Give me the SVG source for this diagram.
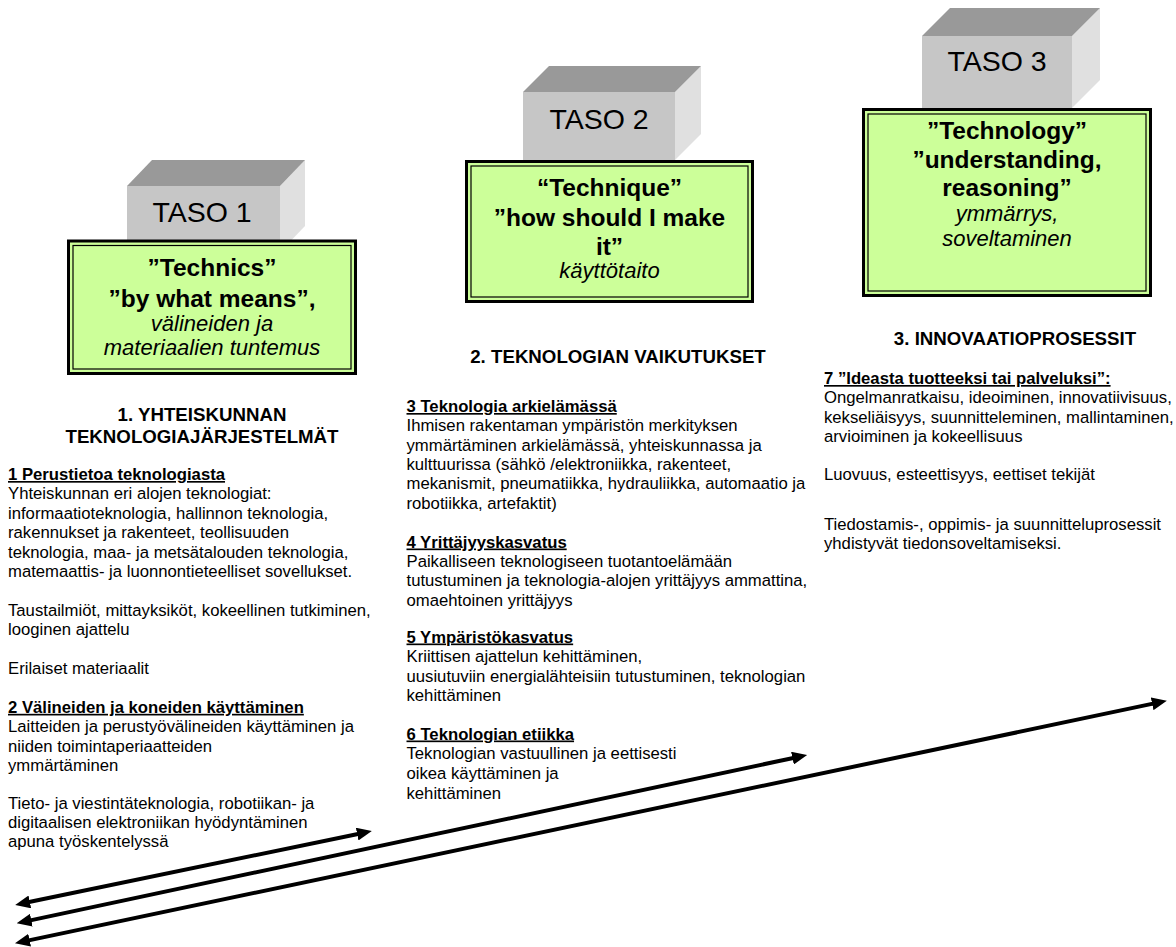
<svg xmlns="http://www.w3.org/2000/svg" width="1176" height="947" viewBox="0 0 1176 947">
<style>
.front{fill:#c6c6c6}
.top{fill:#999999}
.side{fill:#e0e0e0}
.taso{font-family:"Liberation Sans",Arial,sans-serif;font-size:28.5px;fill:#000;text-anchor:middle}
.gbox{fill:#ccff99;stroke:#000;stroke-width:3}
.gin{fill:none;stroke:#000;stroke-width:1.2}
.bt{font-family:"Liberation Sans",Arial,sans-serif;font-size:24.5px;font-weight:bold;text-anchor:middle}
.it{font-family:"Liberation Sans",Arial,sans-serif;font-size:22px;font-style:italic;text-anchor:middle}
.h{font-family:"Liberation Sans",Arial,sans-serif;font-size:18.7px;font-weight:bold;text-anchor:middle}
.b{font-family:"Liberation Sans",Arial,sans-serif;font-size:16.7px;fill:#000}
.u{font-weight:bold;text-decoration:underline}
.arr{stroke:#000;stroke-width:4;fill:none;marker-start:url(#ah);marker-end:url(#ah)}
</style>
<defs>
<marker id="ah" markerUnits="userSpaceOnUse" markerWidth="15" markerHeight="13" refX="7" refY="6.5" orient="auto-start-reverse" viewBox="0 0 15 13">
<path d="M0,0 L15,6.5 L0,13 z" fill="#000"/>
</marker>
</defs>
<rect width="1176" height="947" fill="#fff"/>

<g id="taso1">
<polygon class="side" points="280,186 305,160 305,226 280,252"/>
<polygon class="top" points="127,186 152,160 305,160 280,186"/>
<rect class="front" x="127" y="186" width="153" height="66"/>
<text class="taso" x="202" y="222">TASO 1</text>
</g>
<g id="box1">
<rect class="gbox" x="68.5" y="241" width="287" height="132.5"/>
<rect class="gin" x="73" y="245.5" width="278" height="123.5"/>
<text class="bt" x="212" y="276">”Technics”</text>
<text class="bt" x="212" y="306.5">”by what means”,</text>
<text class="it" x="212" y="331">välineiden ja</text>
<text class="it" x="212" y="355">materiaalien tuntemus</text>
</g>

<g id="taso2">
<polygon class="side" points="675,92 701,66 701,134 675,160"/>
<polygon class="top" points="523,92 549,66 701,66 675,92"/>
<rect class="front" x="523" y="92" width="152" height="68"/>
<text class="taso" x="599" y="128.5">TASO 2</text>
</g>
<g id="box2">
<rect class="gbox" x="466.5" y="161.5" width="286" height="140"/>
<rect class="gin" x="471" y="166" width="277" height="131"/>
<text class="bt" x="609.5" y="196">“Technique”</text>
<text class="bt" x="609.5" y="226">”how should I make</text>
<text class="bt" x="609.5" y="255">it”</text>
<text class="it" x="609.5" y="278">käyttötaito</text>
</g>

<g id="taso3">
<polygon class="side" points="1072,36 1100,8 1100,80 1072,108"/>
<polygon class="top" points="922,36 950,8 1100,8 1072,36"/>
<rect class="front" x="922" y="36" width="150" height="72"/>
<text class="taso" x="997" y="71">TASO 3</text>
</g>
<g id="box3">
<rect class="gbox" x="863.5" y="109.5" width="287" height="186"/>
<rect class="gin" x="868" y="114" width="278" height="177"/>
<text class="bt" x="1007" y="139">”Technology”</text>
<text class="bt" x="1007" y="168">”understanding,</text>
<text class="bt" x="1007" y="196">reasoning”</text>
<text class="it" x="1007" y="221">ymmärrys,</text>
<text class="it" x="1007" y="246">soveltaminen</text>
</g>

<g id="col1">
<text class="h" x="202" y="421">1. YHTEISKUNNAN</text>
<text class="h" x="202" y="443">TEKNOLOGIAJÄRJESTELMÄT</text>
<text class="b" x="8">
<tspan class="u" x="8" y="480">1 Perustietoa teknologiasta</tspan>
<tspan x="8" y="499.4">Yhteiskunnan eri alojen teknologiat:</tspan>
<tspan x="8" y="518.8">informaatioteknologia, hallinnon teknologia,</tspan>
<tspan x="8" y="538.2">rakennukset ja rakenteet, teollisuuden</tspan>
<tspan x="8" y="557.6">teknologia, maa- ja metsätalouden teknologia,</tspan>
<tspan x="8" y="577">matemaattis- ja luonnontieteelliset sovellukset.</tspan>
<tspan x="8" y="615.8">Taustailmiöt, mittayksiköt, kokeellinen tutkiminen,</tspan>
<tspan x="8" y="635.2">looginen ajattelu</tspan>
<tspan x="8" y="674">Erilaiset materiaalit</tspan>
<tspan class="u" x="8" y="712.8">2 Välineiden ja koneiden käyttäminen</tspan>
<tspan x="8" y="732.2">Laitteiden ja perustyövälineiden käyttäminen ja</tspan>
<tspan x="8" y="751.6">niiden toimintaperiaatteiden</tspan>
<tspan x="8" y="771">ymmärtäminen</tspan>
<tspan x="8" y="809">Tieto- ja viestintäteknologia, robotiikan- ja</tspan>
<tspan x="8" y="828">digitaalisen elektroniikan hyödyntäminen</tspan>
<tspan x="8" y="847">apuna työskentelyssä</tspan>
</text>
</g>

<g id="col2">
<text class="h" x="618" y="363">2. TEKNOLOGIAN VAIKUTUKSET</text>
<text class="b">
<tspan class="u" x="406.5" y="412">3 Teknologia arkielämässä</tspan>
<tspan x="406.5" y="431.4">Ihmisen rakentaman ympäristön merkityksen</tspan>
<tspan x="406.5" y="450.7">ymmärtäminen arkielämässä, yhteiskunnassa ja</tspan>
<tspan x="406.5" y="470">kulttuurissa (sähkö /elektroniikka, rakenteet,</tspan>
<tspan x="406.5" y="489.4">mekanismit, pneumatiikka, hydrauliikka, automaatio ja</tspan>
<tspan x="406.5" y="508.8">robotiikka, artefaktit)</tspan>
<tspan class="u" x="406.5" y="547.5">4 Yrittäjyyskasvatus</tspan>
<tspan x="406.5" y="566.8">Paikalliseen teknologiseen tuotantoelämään</tspan>
<tspan x="406.5" y="586.2">tutustuminen ja teknologia-alojen yrittäjyys ammattina,</tspan>
<tspan x="406.5" y="605.5">omaehtoinen yrittäjyys</tspan>
<tspan class="u" x="406.5" y="642.5">5 Ympäristökasvatus</tspan>
<tspan x="406.5" y="662">Kriittisen ajattelun kehittäminen,</tspan>
<tspan x="406.5" y="681.5">uusiutuviin energialähteisiin tutustuminen, teknologian</tspan>
<tspan x="406.5" y="701">kehittäminen</tspan>
<tspan class="u" x="406.5" y="739.5">6 Teknologian etiikka</tspan>
<tspan x="406.5" y="759">Teknologian vastuullinen ja eettisesti</tspan>
<tspan x="406.5" y="778.5">oikea käyttäminen ja</tspan>
<tspan x="406.5" y="798.5">kehittäminen</tspan>
</text>
</g>

<g id="col3">
<text class="h" x="1015" y="345">3. INNOVAATIOPROSESSIT</text>
<text class="b">
<tspan class="u" x="824" y="384">7 ”Ideasta tuotteeksi tai palveluksi”:</tspan>
<tspan x="824" y="403.4">Ongelmanratkaisu, ideoiminen, innovatiivisuus,</tspan>
<tspan x="824" y="422.8">kekseliäisyys, suunnitteleminen, mallintaminen,</tspan>
<tspan x="824" y="442.2">arvioiminen ja kokeellisuus</tspan>
<tspan x="824" y="480">Luovuus, esteettisyys, eettiset tekijät</tspan>
<tspan x="824" y="530">Tiedostamis-, oppimis- ja suunnitteluprosessit</tspan>
<tspan x="824" y="549.4">yhdistyvät tiedonsoveltamiseksi.</tspan>
</text>
</g>

<g id="connectors">
<line class="arr" x1="23" y1="903.3" x2="364" y2="832.7"/>
<line class="arr" x1="24.5" y1="921.6" x2="799.3" y2="756.7"/>
<line class="arr" x1="22.8" y1="941.6" x2="1159" y2="702.4"/>
</g>
</svg>
